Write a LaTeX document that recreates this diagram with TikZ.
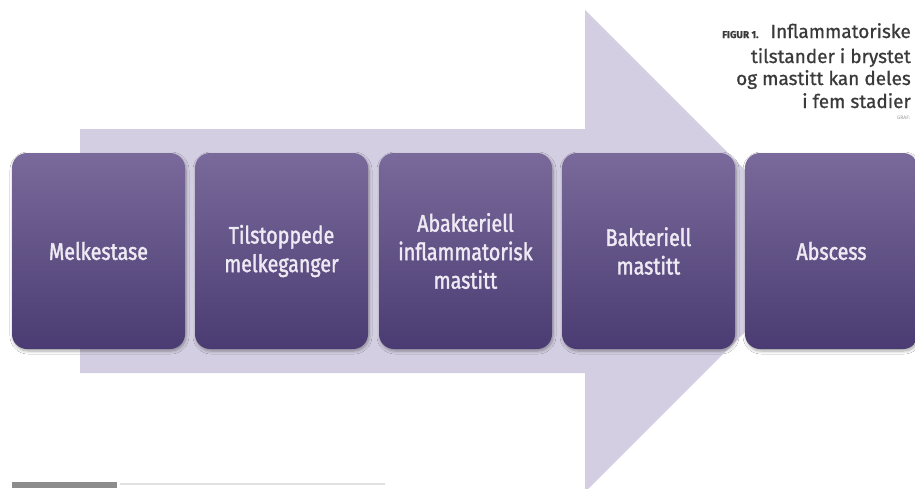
\documentclass[tikz,border=0pt]{standalone}
\usepackage{fontspec}
\setmainfont{Fira Sans}
\newfontfamily\boxfont[FakeStretch=0.82,FakeBold=1.6]{Fira Sans}
\newfontfamily\captfont[FakeBold=0.8]{Fira Sans}
\usetikzlibrary{shadows.blur}
\definecolor{arrowcol}{HTML}{D4CEE2}
\definecolor{boxtop}{HTML}{7A6A9B}
\definecolor{boxbot}{HTML}{4A3B72}
\definecolor{boxtext}{HTML}{EEEAF4}
\definecolor{titlecol}{HTML}{3A3A3A}
\begin{document}
\begin{tikzpicture}[x=1pt,y=1pt,
  stage/.style={rounded corners=15pt, minimum width=173pt, minimum height=196pt,
    top color=boxtop, bottom color=boxbot, text=boxtext, align=center,
    font=\boxfont\fontsize{24}{28.5}\selectfont, inner sep=0pt,
    blur shadow={shadow blur steps=6, shadow xshift=1pt, shadow yshift=-2pt, shadow opacity=35, shadow blur radius=3pt}},
  titleline/.style={anchor=base east, inner sep=0pt, text=titlecol, font=\captfont\fontsize{19}{23}\selectfont}]
\useasboundingbox (0,0) rectangle (915,-488);
\fill[white] (0,0) rectangle (915,-488);
% big background arrow
\fill[arrowcol] (80,-129) -- (585,-129) -- (585,-10) -- (826,-251) -- (585,-492) -- (585,-373) -- (80,-373) -- cycle;
% stages
\node[stage] (b1) at (98.5,-251) {Melkestase};
\node[stage] (b2) at (281.5,-251) {Tilstoppede\\melkeganger};
\node[stage] (b3) at (465.5,-251) {Abakteriell\\inflammatorisk\\mastitt};
\node[stage] (b4) at (648.5,-251) {Bakteriell\\mastitt};
\node[stage] (b5) at (831.5,-251) {Abscess};
% caption
\node[titleline] (t1) at (911,-38) {{\fontsize{10}{10}\selectfont\bfseries FIGUR 1.}\hspace{12pt}Inflammatoriske};
\node[titleline] (t2) at (911,-63) {tilstander i brystet};
\node[titleline] (t3) at (911,-85) {og mastitt kan deles};
\node[titleline] (t4) at (911,-108) {i fem stadier};
\node[anchor=base east, inner sep=0pt, text=black!40, font=\fontsize{5}{5}\selectfont] (graf) at (910,-119) {GRAF:};
% footer fragment
\fill[black!45] (12,-482) rectangle (117,-488);
\fill[black!12] (120,-483) rectangle (385,-485);
\end{tikzpicture}
\end{document}
